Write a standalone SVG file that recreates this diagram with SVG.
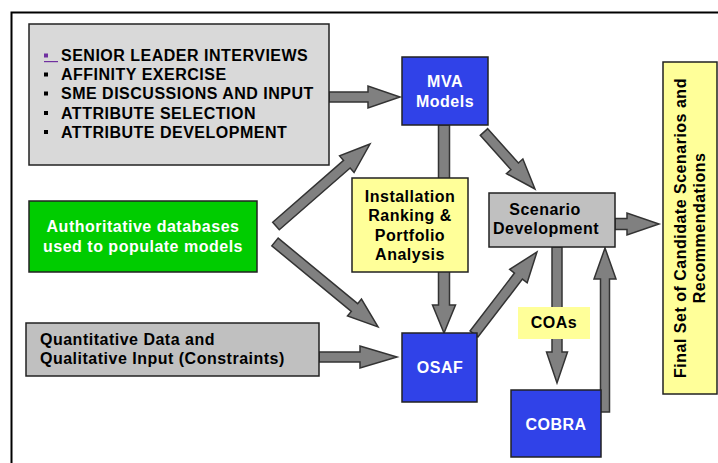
<svg xmlns="http://www.w3.org/2000/svg" width="718" height="463" viewBox="0 0 718 463">
<style>
text{font-family:"Liberation Sans",Arial,sans-serif;font-weight:bold;font-size:16px;letter-spacing:0.5px}
.box{stroke:#222;stroke-width:1.5}
.gray{fill:#c0c0c0}
.lgray{fill:#d9d9d9}
.blue{fill:#3042e8}
.green{fill:#00cc00}
.yellow{fill:#ffff99}
.w{fill:#fff}
.k{fill:#000}
.c{text-anchor:middle}
.arr{fill:#808080;stroke:#333;stroke-width:1.5;stroke-linejoin:miter}
</style>
<rect x="11.5" y="12.5" width="720" height="460" fill="#fff" stroke="#000" stroke-width="2"/>
<g id="connectors">
<path class="arr" transform="translate(329,97)" d="M0,-5 H39 V-11 L71,0 L39,11 V5 H0 Z"/>
<path class="arr" transform="translate(276,226) rotate(-41.1)" d="M0,-5 H94 V-11 L124.7,0 L94,11 V5 H0 Z"/>
<path class="arr" transform="translate(275,242) rotate(39.5)" d="M0,-5 H103 V-11 L133.5,0 L103,11 V5 H0 Z"/>
<path class="arr" transform="translate(319,357)" d="M0,-5 H41 V-11 L78,0 L41,11 V5 H0 Z"/>
<path class="arr" transform="translate(444,125) rotate(90)" d="M0,-5.5 H180 V-11.5 L208,0 L180,11.5 V5.5 H0 Z"/>
<path class="arr" transform="translate(484,132) rotate(48.2)" d="M0,-5 H46 V-11 L76.5,0 L46,11 V5 H0 Z"/>
<path class="arr" transform="translate(474,334) rotate(-52.5)" d="M0,-5 H73 V-11 L103.4,0 L73,11 V5 H0 Z"/>
<path class="arr" transform="translate(557,247) rotate(90)" d="M0,-5 H105 V-10.5 L136,0 L105,10.5 V5 H0 Z"/>
<path class="arr" transform="translate(605,412) rotate(-90)" d="M0,-4.5 H133 V-11 L164,0 L133,11 V4.5 H0 Z"/>
<path class="arr" transform="translate(615,224)" d="M0,-5.5 H12 V-11 L44,0 L12,11 V5.5 H0 Z"/>
</g>
<g id="inputs-box">
<rect class="box lgray" x="29" y="24" width="300" height="141"/>
<rect x="44" y="53.5" width="4" height="4" fill="#7030a0"/>
<rect x="44" y="61" width="14" height="1.2" fill="#7030a0"/>
<rect x="44" y="72.5" width="4" height="4" fill="#000"/>
<rect x="44" y="91.5" width="4" height="4" fill="#000"/>
<rect x="44" y="111" width="4" height="4" fill="#000"/>
<rect x="44" y="130" width="4" height="4" fill="#000"/>
<text class="k" x="61" y="61">SENIOR LEADER INTERVIEWS</text>
<text class="k" x="61" y="80">AFFINITY EXERCISE</text>
<text class="k" x="61" y="99">SME DISCUSSIONS AND INPUT</text>
<text class="k" x="61" y="119">ATTRIBUTE SELECTION</text>
<text class="k" x="61" y="138">ATTRIBUTE DEVELOPMENT</text>
</g>
<g id="mva">
<rect class="box blue" x="402" y="57" width="86" height="68"/>
<text class="w c" x="445" y="87">MVA</text>
<text class="w c" x="445" y="107">Models</text>
</g>
<g id="databases">
<rect class="box green" x="29" y="201" width="228" height="71"/>
<text class="w c" x="143" y="232">Authoritative databases</text>
<text class="w c" x="143" y="252">used to populate models</text>
</g>
<g id="quant">
<rect class="box gray" x="26" y="323" width="293" height="53"/>
<text class="k" x="40" y="345">Quantitative Data and</text>
<text class="k" x="40" y="364">Qualitative Input (Constraints)</text>
</g>
<g id="ranking">
<rect class="box yellow" x="352" y="178" width="116" height="94"/>
<text class="k c" x="410" y="202">Installation</text>
<text class="k c" x="410" y="221">Ranking &amp;</text>
<text class="k c" x="410" y="241">Portfolio</text>
<text class="k c" x="410" y="260">Analysis</text>
</g>
<g id="osaf">
<rect class="box blue" x="402" y="333" width="75" height="69"/>
<text class="w c" x="440" y="373">OSAF</text>
</g>
<g id="scenario">
<rect class="box gray" x="489" y="193" width="126" height="54"/>
<text class="k c" x="545" y="215">Scenario</text>
<text class="k c" x="546" y="234">Development</text>
</g>
<g id="coas">
<rect class="yellow" x="518" y="307" width="72" height="32"/>
<text class="k c" x="554" y="328">COAs</text>
</g>
<g id="cobra">
<rect class="box blue" x="511" y="390" width="90" height="67"/>
<text class="w c" x="556" y="430">COBRA</text>
</g>
<g id="final">
<rect class="box yellow" x="663" y="62" width="54" height="332"/>
<text class="k c" transform="translate(686,228) rotate(-90)" x="0" y="0">Final Set of Candidate Scenarios and</text>
<text class="k c" transform="translate(705,228) rotate(-90)" x="0" y="0">Recommendations</text>
</g>
</svg>
